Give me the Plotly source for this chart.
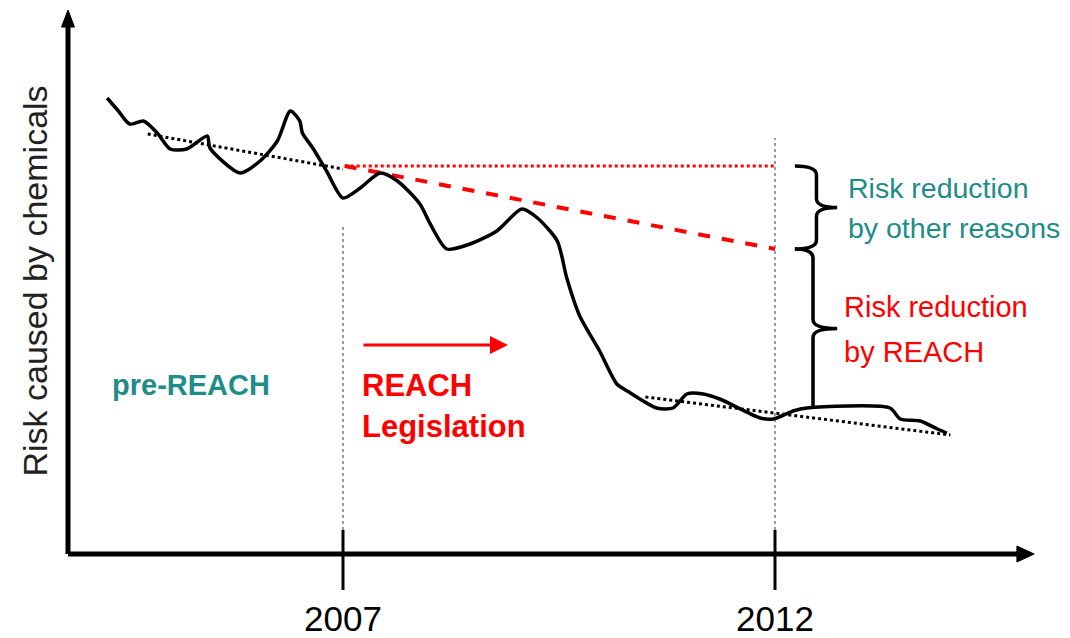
import plotly.graph_objects as go

# ---- data (conceptual risk curve) ----
years = [2004.27, 2004.40, 2004.53, 2004.69, 2004.85, 2005.00, 2005.19, 2005.43, 2005.46,
         2005.81, 2006.04, 2006.24, 2006.39, 2006.50, 2006.53, 2006.65, 2006.81, 2007.00,
         2007.20, 2007.43, 2007.63, 2007.89, 2008.01, 2008.20, 2008.47, 2008.78, 2009.07,
         2009.25, 2009.48, 2009.59, 2009.74, 2009.97, 2010.17, 2010.29, 2010.63, 2010.82,
         2010.98, 2011.17, 2011.36, 2011.83, 2011.98, 2012.21, 2012.37, 2013.33, 2013.45,
         2013.68, 2013.88, 2013.99]
risk = [91.2, 88.6, 86.0, 86.6, 84.2, 81.0, 81.0, 83.6, 81.2,
        76.2, 78.6, 82.6, 88.6, 86.6, 84.2, 81.2, 76.6, 71.2,
        73.2, 76.2, 74.6, 70.0, 66.0, 61.0, 62.0, 64.6, 69.0,
        67.2, 62.6, 55.2, 47.6, 40.6, 34.0, 32.6, 29.2, 29.2,
        32.0, 32.0, 31.0, 27.2, 27.0, 28.6, 29.2, 29.2, 27.0,
        26.6, 25.0, 24.2]

pre_trend_x = [2004.74, 2007.00]
pre_trend_y = [84.0, 77.0]
post_trend_x = [2010.50, 2014.03]
post_trend_y = [31.4, 23.8]

reach_start, reach_end = 2007, 2012
baseline_risk = 77.6          # risk level without any reduction
expected_risk_2012 = 61.0     # expected risk without REACH
actual_risk_2012 = 29.2       # risk level reached with REACH

tick_years = [2007, 2012]
tick_labels = ["2007", "2012"]

# ---- pixel-calibrated axis ranges (page has an 8px body margin) ----
X0, X1 = 2003.1227, 2015.4144
Y0, Y1 = -16.8, 109.2

TEAL = "#1e8c88"
RED = "#ff0000"
SANS = "Liberation Sans, Arial, Helvetica, sans-serif"

fig = go.Figure()

# vertical dotted guides
for yr, top in zip(tick_years, [65.8, 83.2]):
    fig.add_trace(go.Scatter(x=[yr, yr], y=[4.8, top], mode="lines",
                             line=dict(color="#9a9a9a", width=2, dash="dot"),
                             hoverinfo="skip", showlegend=False))

# trend lines
fig.add_trace(go.Scatter(x=pre_trend_x, y=pre_trend_y, mode="lines",
                         line=dict(color="black", width=3, dash="dot"), showlegend=False))
fig.add_trace(go.Scatter(x=post_trend_x, y=post_trend_y, mode="lines",
                         line=dict(color="black", width=3, dash="dot"), showlegend=False))

# reference scenarios
fig.add_trace(go.Scatter(x=[reach_start + 0.02, reach_end], y=[baseline_risk, baseline_risk],
                         mode="lines", line=dict(color=RED, width=3, dash="dot"), showlegend=False))
fig.add_trace(go.Scatter(x=[reach_start + 0.02, reach_end], y=[baseline_risk, expected_risk_2012],
                         mode="lines", line=dict(color=RED, width=4, dash="dash"), showlegend=False))

# main curve
fig.add_trace(go.Scatter(x=years, y=risk, mode="lines",
                         line=dict(color="black", width=3.5, shape="spline", smoothing=0.7),
                         showlegend=False))

shapes = []
# axes
ax_x0, ax_y0 = 2003.8171, 0.0
ax_xend, ax_yend = 2015.0, 108.8
shapes.append(dict(type="line", xref="x", yref="y", x0=ax_x0, y0=ax_y0, x1=ax_xend - 0.15, y1=ax_y0,
                   line=dict(color="black", width=5)))
shapes.append(dict(type="line", xref="x", yref="y", x0=ax_x0, y0=ax_y0, x1=ax_x0, y1=ax_yend - 2.5,
                   line=dict(color="black", width=5)))
# arrow heads
hx, hy = 0.2, 1.6
shapes.append(dict(type="path", xref="x", yref="y", fillcolor="black", line=dict(color="black", width=1),
                   path=f"M {ax_xend},{ax_y0} L {ax_xend-hx},{ax_y0+hy} L {ax_xend-hx},{ax_y0-hy} Z"))
vx, vy = 0.075, 3.4
shapes.append(dict(type="path", xref="x", yref="y", fillcolor="black", line=dict(color="black", width=1),
                   path=f"M {ax_x0},{ax_yend} L {ax_x0-vx},{ax_yend-vy} L {ax_x0+vx},{ax_yend-vy} Z"))
# tick marks
for yr in tick_years:
    shapes.append(dict(type="line", xref="x", yref="y", x0=yr, x1=yr, y0=4.8, y1=-7.2,
                       line=dict(color="black", width=3)))

# curly braces
xl, xs, xt = 2012.23, 2012.48, 2012.72
d = 1.8
ymid1 = (baseline_risk + expected_risk_2012) / 2
path1 = (f"M {xl},{baseline_risk} Q {xs},{baseline_risk} {xs},{baseline_risk-d} "
         f"L {xs},{ymid1+d} Q {xs},{ymid1} {xt},{ymid1} Q {xs},{ymid1} {xs},{ymid1-d} "
         f"L {xs},{expected_risk_2012+d} Q {xs},{expected_risk_2012} {xl},{expected_risk_2012}")
shapes.append(dict(type="path", xref="x", yref="y", path=path1, line=dict(color="black", width=3.5)))
xs2 = 2012.44
ymid2 = (expected_risk_2012 + actual_risk_2012) / 2
path2 = (f"M {xl},{expected_risk_2012} Q {xs2},{expected_risk_2012} {xs2},{expected_risk_2012-d} "
         f"L {xs2},{ymid2+d} Q {xs2},{ymid2} {xt},{ymid2} Q {xs2},{ymid2} {xs2},{ymid2-d} "
         f"L {xs2},{actual_risk_2012}")
shapes.append(dict(type="path", xref="x", yref="y", path=path2, line=dict(color="black", width=3.5)))

annotations = []
# year labels
for yr, lab in zip(tick_years, tick_labels):
    annotations.append(dict(x=yr, y=-12.8, xref="x", yref="y", text=lab, showarrow=False,
                            font=dict(family=SANS, size=35, color="black"),
                            xanchor="center", yanchor="middle"))
# y-axis title
annotations.append(dict(x=2003.43, y=54.6, xref="x", yref="y", text="Risk caused by chemicals",
                        showarrow=False, textangle=-90, font=dict(family=SANS, size=34, color="#222222"),
                        xanchor="center", yanchor="middle"))
# pre-REACH
annotations.append(dict(x=2004.30, y=33.8, xref="x", yref="y", text="<b>pre-REACH</b>", showarrow=False,
                        font=dict(family=SANS, size=29, color=TEAL), xanchor="left", yanchor="middle"))
# REACH Legislation
annotations.append(dict(x=2007.20, y=33.8, xref="x", yref="y", text="<b>REACH</b>", showarrow=False,
                        font=dict(family=SANS, size=31, color=RED), xanchor="left", yanchor="middle"))
annotations.append(dict(x=2007.20, y=25.6, xref="x", yref="y", text="<b>Legislation</b>", showarrow=False,
                        font=dict(family=SANS, size=31, color=RED), xanchor="left", yanchor="middle"))
# red arrow
annotations.append(dict(x=2008.91, y=41.8, ax=2007.22, ay=41.8, xref="x", yref="y", axref="x", ayref="y",
                        text="", showarrow=True, arrowhead=2, arrowsize=1.2, arrowwidth=3, arrowcolor=RED))
# brace labels
annotations.append(dict(x=2012.82, y=73.2, xref="x", yref="y", text="Risk reduction", showarrow=False,
                        font=dict(family=SANS, size=28.5, color=TEAL), xanchor="left", yanchor="middle"))
annotations.append(dict(x=2012.82, y=65.2, xref="x", yref="y", text="by other reasons", showarrow=False,
                        font=dict(family=SANS, size=28.5, color=TEAL), xanchor="left", yanchor="middle"))
annotations.append(dict(x=2012.78, y=49.4, xref="x", yref="y", text="Risk reduction", showarrow=False,
                        font=dict(family=SANS, size=29, color=RED), xanchor="left", yanchor="middle"))
annotations.append(dict(x=2012.78, y=40.4, xref="x", yref="y", text="by REACH", showarrow=False,
                        font=dict(family=SANS, size=29, color=RED), xanchor="left", yanchor="middle"))

fig.update_layout(
    width=1062, height=630,
    margin=dict(l=0, r=0, t=0, b=0),
    paper_bgcolor="white", plot_bgcolor="white",
    xaxis=dict(range=[X0, X1], visible=False, fixedrange=True),
    yaxis=dict(range=[Y0, Y1], visible=False, fixedrange=True),
    shapes=shapes, annotations=annotations, showlegend=False,
)

fig.write_html("out.html")
